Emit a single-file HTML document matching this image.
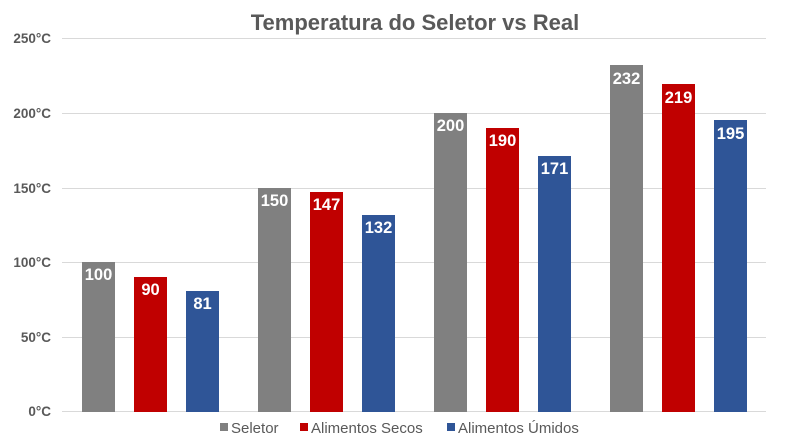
<!DOCTYPE html>
<html><head><meta charset="utf-8"><style>
html,body{margin:0;padding:0;background:#fff;}
svg{display:block;font-family:"Liberation Sans",sans-serif;}
</style></head><body>
<svg width="800" height="448" viewBox="0 0 800 448">
<text x="415" y="30" text-anchor="middle" font-size="22" font-weight="bold" fill="#595959">Temperatura do Seletor vs Real</text>
<g stroke="#d9d9d9" stroke-width="1">
<line x1="62" x2="766" y1="38.5" y2="38.5"/>
<line x1="62" x2="766" y1="113.5" y2="113.5"/>
<line x1="62" x2="766" y1="188.5" y2="188.5"/>
<line x1="62" x2="766" y1="262.5" y2="262.5"/>
<line x1="62" x2="766" y1="337.5" y2="337.5"/>
<line x1="62" x2="766" y1="411.5" y2="411.5"/>
</g>
<g font-size="13.5" font-weight="bold" fill="#595959" text-anchor="end">
<text x="51" y="43">250°C</text>
<text x="51" y="118">200°C</text>
<text x="51" y="193">150°C</text>
<text x="51" y="267">100°C</text>
<text x="51" y="342">50°C</text>
<text x="51" y="416">0°C</text>
</g>
<g font-size="15" fill="#595959">
<rect x="220" y="423" width="8" height="8" fill="#808080"/><text x="231" y="433">Seletor</text>
<rect x="300" y="423" width="8" height="8" fill="#c00000"/><text x="311" y="433">Alimentos Secos</text>
<rect x="447" y="423" width="8" height="8" fill="#2f5597"/><text x="458" y="433">Alimentos Úmidos</text>
</g>
<g font-size="16.5" font-weight="bold" fill="#fff" text-anchor="middle">
<rect x="82" y="262" width="33" height="150" fill="#808080"/><text x="98.5" y="280">100</text>
<rect x="134" y="277" width="33" height="135" fill="#c00000"/><text x="150.5" y="295">90</text>
<rect x="186" y="291" width="33" height="121" fill="#2f5597"/><text x="202.5" y="309">81</text>
<rect x="258" y="188" width="33" height="224" fill="#808080"/><text x="274.5" y="206">150</text>
<rect x="310" y="192" width="33" height="220" fill="#c00000"/><text x="326.5" y="210">147</text>
<rect x="362" y="215" width="33" height="197" fill="#2f5597"/><text x="378.5" y="233">132</text>
<rect x="434" y="113" width="33" height="299" fill="#808080"/><text x="450.5" y="131">200</text>
<rect x="486" y="128" width="33" height="284" fill="#c00000"/><text x="502.5" y="146">190</text>
<rect x="538" y="156" width="33" height="256" fill="#2f5597"/><text x="554.5" y="174">171</text>
<rect x="610" y="65" width="33" height="347" fill="#808080"/><text x="626.5" y="84">232</text>
<rect x="662" y="84" width="33" height="328" fill="#c00000"/><text x="678.5" y="103">219</text>
<rect x="714" y="120" width="33" height="292" fill="#2f5597"/><text x="730.5" y="139">195</text>
</g>
</svg>
</body></html>
